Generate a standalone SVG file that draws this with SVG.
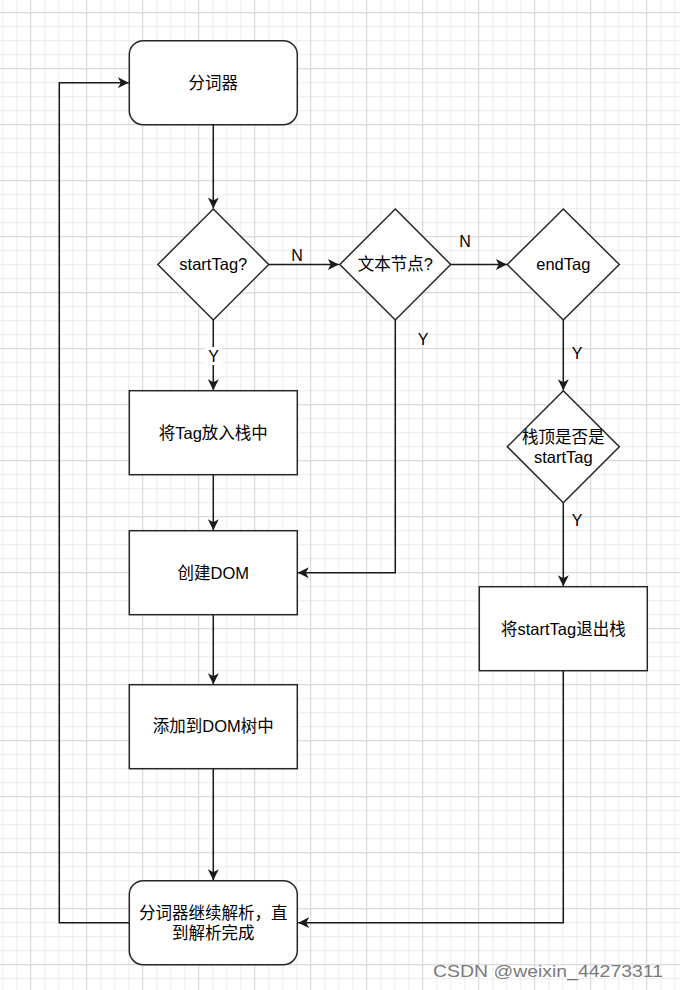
<svg xmlns="http://www.w3.org/2000/svg" width="680" height="990" viewBox="0 0 680 990">
  <style>
    .shape { fill: #ffffff; stroke: #262626; stroke-width: 1.5; }
    .conn { fill: none; stroke: #1a1a1a; stroke-width: 1.5; }
    .txt { font-family: "Liberation Sans", "Noto Sans CJK SC", sans-serif; font-size: 16.5px; fill: #000000; text-anchor: middle; }
    .lbl { font-family: "Liberation Sans", "Noto Sans CJK SC", sans-serif; font-size: 16px; fill: #000000; text-anchor: middle; }
    .wm { font-family: "Liberation Sans", sans-serif; font-size: 17px; fill: #7a7a7a; }
  </style>
  <defs>
    <pattern id="grid" patternUnits="userSpaceOnUse" x="30.2" y="12.2" width="56" height="56">
      <rect x="14" y="0" width="1" height="56" fill="#ececec"/>
      <rect x="28" y="0" width="1" height="56" fill="#ececec"/>
      <rect x="42" y="0" width="1" height="56" fill="#ececec"/>
      <rect x="0" y="14" width="56" height="1" fill="#ececec"/>
      <rect x="0" y="28" width="56" height="1" fill="#ececec"/>
      <rect x="0" y="42" width="56" height="1" fill="#ececec"/>
      <rect x="0" y="0" width="1" height="56" fill="#d3d3d3"/>
      <rect x="0" y="0" width="56" height="1" fill="#d3d3d3"/>
    </pattern>
    <marker id="arrow" markerUnits="userSpaceOnUse" markerWidth="12" markerHeight="12" viewBox="0 0 12 12" refX="11" refY="6" orient="auto">
      <path d="M0,0.5 L11,6 L0,11.5 L3,6 Z" fill="#1a1a1a"/>
    </marker>
  </defs>

  <rect x="0" y="0" width="680" height="990" fill="#ffffff"/>
  <rect x="0" y="0" width="680" height="990" fill="url(#grid)"/>

  <g id="connectors">
    <path class="conn" d="M213.3,124.7 V208.5" marker-end="url(#arrow)"/>
    <path class="conn" d="M268.7,264.5 H338.8" marker-end="url(#arrow)"/>
    <path class="conn" d="M450.7,264.5 H506.8" marker-end="url(#arrow)"/>
    <path class="conn" d="M213.3,320 V390.2" marker-end="url(#arrow)"/>
    <path class="conn" d="M395.3,320 V572.7 H297.8" marker-end="url(#arrow)"/>
    <path class="conn" d="M563.3,320 V390.2" marker-end="url(#arrow)"/>
    <path class="conn" d="M563.3,502.7 V586.2" marker-end="url(#arrow)"/>
    <path class="conn" d="M213.3,474.7 V530.2" marker-end="url(#arrow)"/>
    <path class="conn" d="M213.3,614.7 V684.2" marker-end="url(#arrow)"/>
    <path class="conn" d="M213.3,768.3 V880.2" marker-end="url(#arrow)"/>
    <path class="conn" d="M563.3,670.7 V922.7 H298.2" marker-end="url(#arrow)"/>
    <path class="conn" d="M129.3,922.7 H59.3 V82.7 H128.8" marker-end="url(#arrow)"/>
    <rect x="205" y="347" width="17" height="18" fill="#ffffff"/>
    <text class="lbl" x="213.5" y="362">Y</text>
    <text class="lbl" x="297" y="261">N</text>
    <text class="lbl" x="465" y="247">N</text>
    <text class="lbl" x="423" y="344.5">Y</text>
    <text class="lbl" x="577" y="358.5">Y</text>
    <text class="lbl" x="577" y="525.5">Y</text>
  </g>

  <g id="tokenizer">
    <rect class="shape" x="129.3" y="40.7" width="168" height="84" rx="14" ry="14"/>
    <text class="txt" x="213.3" y="88.5">分词器</text>
  </g>

  <g id="startTag">
    <path class="shape" d="M213.3,209 L268.7,264.5 L213.3,320 L157.8,264.5 Z"/>
    <text class="txt" x="213.3" y="270.3">startTag?</text>
  </g>

  <g id="textNode">
    <path class="shape" d="M395.3,209 L450.7,264.5 L395.3,320 L339.8,264.5 Z"/>
    <text class="txt" x="395.3" y="270.3">文本节点?</text>
  </g>

  <g id="endTag">
    <path class="shape" d="M563.3,209 L619.3,264.5 L563.3,320 L507.3,264.5 Z"/>
    <text class="txt" x="563.3" y="270.3">endTag</text>
  </g>

  <g id="stackTop">
    <path class="shape" d="M563.3,390.7 L619.3,446.7 L563.3,502.7 L507.3,446.7 Z"/>
    <text class="txt" x="563.3" y="443">栈顶是否是</text>
    <text class="txt" x="563.3" y="462.5">startTag</text>
  </g>

  <g id="pushTag">
    <rect class="shape" x="129.3" y="390.7" width="168" height="84"/>
    <text class="txt" x="213.3" y="438.5">将Tag放入栈中</text>
  </g>

  <g id="createDom">
    <rect class="shape" x="129.3" y="530.7" width="168" height="84"/>
    <text class="txt" x="213.3" y="578.5">创建DOM</text>
  </g>

  <g id="addDomTree">
    <rect class="shape" x="129.3" y="684.7" width="168" height="84"/>
    <text class="txt" x="213.3" y="732.3">添加到DOM树中</text>
  </g>

  <g id="popStartTag">
    <rect class="shape" x="479.3" y="586.7" width="168" height="84"/>
    <text class="txt" x="563.3" y="634.5">将startTag退出栈</text>
  </g>

  <g id="continueParse">
    <rect class="shape" x="129.3" y="880.7" width="168" height="84" rx="14" ry="14"/>
    <text class="txt" x="213.3" y="918.5">分词器继续解析，直</text>
    <text class="txt" x="213.3" y="938.5">到解析完成</text>
  </g>

  <text class="wm" x="433" y="976.5" textLength="230" lengthAdjust="spacingAndGlyphs">CSDN @weixin_44273311</text>
</svg>
